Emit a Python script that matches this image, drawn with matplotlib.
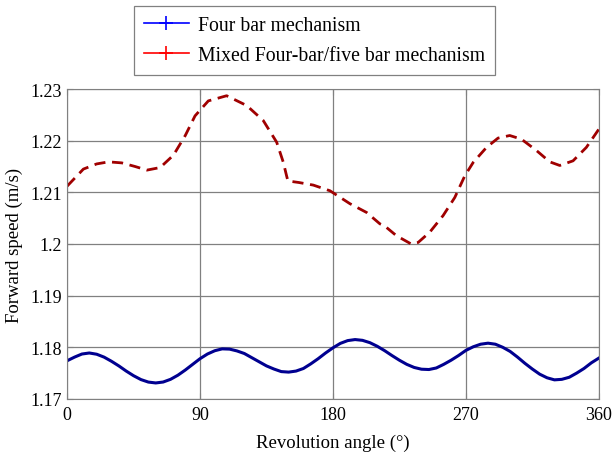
import numpy as np
import matplotlib
matplotlib.use("Agg")
import matplotlib.pyplot as plt
from matplotlib.lines import Line2D

plt.rcParams["font.family"] = ["Liberation Serif", "DejaVu Serif"]

# ------------------------------------------------------------------
# Data
# ------------------------------------------------------------------
four_bar_angle = np.arange(0, 361, 5)
four_bar_speed = [
    1.1774, 1.1781, 1.1787, 1.1789, 1.17866, 1.1781, 1.1773, 1.1764, 1.1754,
    1.1745, 1.17375, 1.17327, 1.1731, 1.17328, 1.1738, 1.1746, 1.1756, 1.1767,
    1.1778, 1.1787, 1.17934, 1.1797, 1.17965, 1.1793, 1.1788, 1.1780, 1.1772,
    1.1764, 1.1758, 1.1753, 1.1752, 1.1754, 1.1759, 1.1768, 1.1778, 1.1789,
    1.1799, 1.18076, 1.1813, 1.1815, 1.18135, 1.1809, 1.1802, 1.17935, 1.1784,
    1.1775, 1.1767, 1.1761, 1.17576, 1.1757, 1.1760, 1.1767, 1.1775, 1.1784,
    1.1794, 1.1801, 1.1806, 1.1808, 1.1806, 1.1800, 1.1792, 1.1781, 1.1769,
    1.1758, 1.1748, 1.1741, 1.1737, 1.1738, 1.1742, 1.1750, 1.1759, 1.1770,
    1.1779,
]

mixed_angle = [
    0, 11, 20, 28, 37, 46, 54, 63, 72, 80, 86.6, 95.6, 108, 121.6, 132.8,
    141.9, 146.4, 148.6, 149.5, 157, 166.7, 178, 191.5, 202.8, 211.8, 215,
    223, 233, 237.7, 245.6, 254.6, 262.5, 269.3, 275, 284, 291.8, 299.7,
    307.6, 317.8, 326.8, 333.6, 342.6, 351.6, 360,
]
mixed_speed = [
    1.2112, 1.2145, 1.2155, 1.2159, 1.2157, 1.2150, 1.2143, 1.2148, 1.2172,
    1.2210, 1.2248, 1.2277, 1.2287, 1.2268, 1.2239, 1.2197, 1.2158, 1.2132,
    1.2122, 1.2119, 1.2114, 1.2103, 1.2078, 1.2061, 1.2039, 1.2035, 1.2016,
    1.2000, 1.2003, 1.2023, 1.2055, 1.2090, 1.2132, 1.2158, 1.2187, 1.2205,
    1.2210, 1.2203, 1.2181, 1.2159, 1.2152, 1.2161, 1.2187, 1.2222,
]

x_ticks = [0, 90, 180, 270, 360]
y_ticks = [1.17, 1.18, 1.19, 1.2, 1.21, 1.22, 1.23]
y_tick_labels = ["1.17", "1.18", "1.19", "1.2", "1.21", "1.22", "1.23"]

# ------------------------------------------------------------------
fig = plt.figure(figsize=(6.16, 4.64), dpi=100)
ax = fig.add_axes([0.109, 0.138, 0.863, 0.668])

ax.plot(four_bar_angle, four_bar_speed, color="#000090", lw=2.2)
ax.plot(mixed_angle, mixed_speed, color="#A00000", lw=2.0,
        ls=(0, (4.0, 2.4)))

ax.set_xlim(0, 360)
ax.set_ylim(1.17, 1.23)
ax.set_xticks(x_ticks)
ax.set_yticks(y_ticks)
ax.set_yticklabels(y_tick_labels)
ax.grid(color="#808080", lw=0.9)
ax.set_axisbelow(True)
for s in ax.spines.values():
    s.set_color("#808080")
ax.tick_params(direction="in", length=4, color="#808080", labelsize=13,
               top=True, right=True)
ax.tick_params(axis="x", pad=5)
ax.tick_params(axis="y", pad=4)
ax.set_xlabel("Revolution angle (°)", fontsize=13.5, labelpad=8)
ax.set_ylabel("Forward speed (m/s)", fontsize=13.5, labelpad=5)

handles = [
    Line2D([], [], color="#0000FF", lw=1.2, marker="+", ms=10, mew=1.2),
    Line2D([], [], color="#FF0000", lw=1.2, marker="+", ms=10, mew=1.2),
]
labels = ["Four bar mechanism", "Mixed Four-bar/five bar mechanism"]
leg = fig.legend(handles, labels, loc="upper left",
                 bbox_to_anchor=(134 / 616, 1 - 7 / 464),
                 fontsize=14.2, fancybox=False, framealpha=1,
                 edgecolor="#808080", handlelength=2.25,
                 borderpad=0.52, labelspacing=0.52, handletextpad=0.47,
                 borderaxespad=0)
leg.get_frame().set_linewidth(0.9)

fig.savefig("out.png", dpi=100)
